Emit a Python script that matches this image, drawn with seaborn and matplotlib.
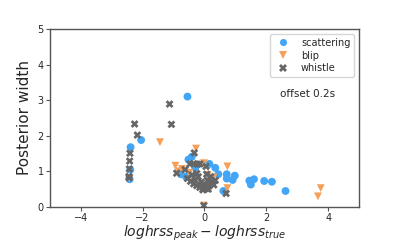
import numpy as np
import pandas as pd
import matplotlib
matplotlib.use("Agg")
import matplotlib.pyplot as plt
import seaborn as sns

# values
scattering_x = [-0.55, -2.05, -2.39, -2.40, -2.42, -0.52, -0.41, -0.76, 0.16, 0.35,
                0.45, 0.72, 0.98, 0.91, 0.72, 0.61, 1.45, 1.50, 1.60, 1.93,
                2.18, 2.62, -0.60, -0.30]
scattering_y = [3.10, 1.88, 1.68, 1.05, 0.78, 1.33, 1.41, 0.92, 1.21, 1.10,
                0.92, 0.92, 0.88, 0.76, 0.80, 0.45, 0.74, 0.63, 0.78, 0.73,
                0.71, 0.45, 0.85, 1.10]

blip_x = [-1.44, -0.275, -0.94, -0.73, -0.49, -0.02, 0.29, 0.74, 0.74, 3.76,
          3.67, -0.02, -2.42, -0.10, 0.10, -0.85, 0.20]
blip_y = [1.82, 1.64, 1.16, 1.07, 0.96, 1.23, 0.83, 1.14, 0.53, 0.53,
          0.30, 0.04, 0.80, 0.60, 0.90, 1.00, 0.55]

whistle_x = [-1.13, -1.07, -2.26, -2.17, -2.41, -2.42, -2.43, -2.44, -2.44, -0.33,
             -0.47, -0.35, -0.22, -0.15, -0.90, -0.63, -0.25, 0.05, 0.07, 0.70,
             -0.02, -0.55, -0.45, -0.35, -0.25, -0.15, -0.05, 0.05, 0.15, 0.25,
             0.35, -0.30, -0.10, 0.00, 0.10, -0.20, 0.20, -0.40, 0.30, -0.05, 0.12]
whistle_y = [2.89, 2.32, 2.33, 2.02, 1.51, 1.29, 1.07, 0.86, 0.82, 1.52,
             1.21, 1.22, 1.20, 1.21, 0.95, 1.05, 0.94, 1.14, 0.92, 0.38,
             0.04, 0.80, 0.72, 0.65, 0.60, 0.55, 0.50, 0.52, 0.60, 0.70,
             0.75, 0.75, 0.70, 0.62, 0.75, 0.85, 0.85, 0.90, 0.62, 0.48, 0.50]

df = pd.DataFrame({
    "dx": scattering_x + blip_x + whistle_x,
    "width": scattering_y + blip_y + whistle_y,
    "glitch": (["scattering"] * len(scattering_x) + ["blip"] * len(blip_x)
               + ["whistle"] * len(whistle_x)),
})

sns.set_style("white")
plt.rcParams["font.family"] = ["DejaVu Sans"]

fig, ax = plt.subplots(figsize=(3.99, 2.45), dpi=100)
fig.subplots_adjust(left=0.125, right=0.9, bottom=0.155, top=0.882)

palette = {"scattering": "#42a5f5", "blip": "#f5a05a", "whistle": "#666666"}
markers = {"scattering": "o", "blip": "v", "whistle": "X"}
sns.scatterplot(data=df, x="dx", y="width", hue="glitch", style="glitch",
                palette=palette, markers=markers, s=32, linewidth=0,
                ax=ax)

ax.set_xlim(-5, 5)
ax.set_ylim(0, 5)
ax.set_xticks([-4, -2, 0, 2, 4])
ax.set_yticks([0, 1, 2, 3, 4, 5])
ax.tick_params(labelsize=7, length=3, pad=1.5, direction="out", color="#555555",
               bottom=True, left=True)
for sp in ax.spines.values():
    sp.set_color("#555555")
    sp.set_linewidth(1.0)

ax.set_xlabel(r"$loghrss_{peak} - loghrss_{true}$", fontsize=10, labelpad=0.5)
ax.set_ylabel("Posterior width", fontsize=11, labelpad=4)

ax.text(2.45, 3.17, "offset 0.2s", fontsize=7.5, va="center")

leg = ax.legend(loc="upper right", fontsize=7, frameon=True, handletextpad=0.8,
                borderpad=0.4, labelspacing=0.3, markerscale=0.9)
leg.get_frame().set_edgecolor("#cccccc")

fig.savefig("out.png", dpi=100)
